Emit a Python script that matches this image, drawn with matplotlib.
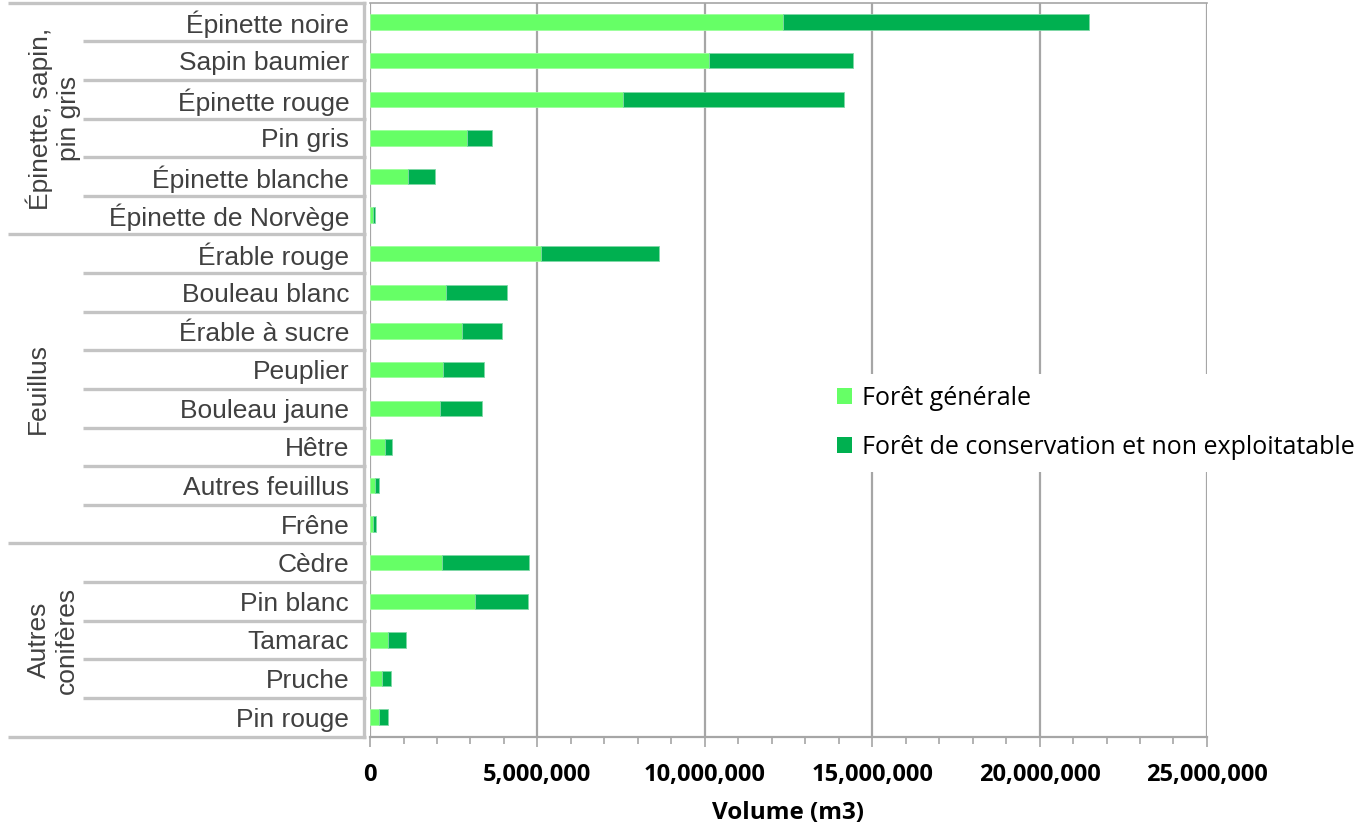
import numpy as np
import matplotlib.pyplot as plt
import matplotlib.transforms as mtransforms
from matplotlib.patches import Patch
from matplotlib.ticker import MultipleLocator, FuncFormatter

# Species, top to bottom, with the group each one belongs to
species = ["Épinette noire", "Sapin baumier", "Épinette rouge", "Pin gris",
           "Épinette blanche", "Épinette de Norvège",
           "Érable rouge", "Bouleau blanc", "Érable à sucre", "Peuplier",
           "Bouleau jaune", "Hêtre", "Autres feuillus", "Frêne",
           "Cèdre", "Pin blanc", "Tamarac", "Pruche", "Pin rouge"]
groups = ["Épinette, sapin,\npin gris", "Feuillus", "Autres\nconifères"]
group_sizes = [6, 8, 5]

# Volumes (m3)
generale = np.array([12.34, 10.13, 7.55, 2.89, 1.12, 0.10,
                     5.11, 2.28, 2.76, 2.19, 2.10, 0.46, 0.15, 0.10,
                     2.15, 3.15, 0.54, 0.37, 0.28]) * 1e6
conservation = np.array([9.13, 4.30, 6.62, 0.74, 0.81, 0.06,
                         3.52, 1.82, 1.17, 1.22, 1.24, 0.21, 0.13, 0.09,
                         2.61, 1.57, 0.52, 0.26, 0.27]) * 1e6

light_green = "#66FF66"
dark_green = "#00B050"
grid_grey = "#A6A6A6"
sep_grey = "#C4C4C4"
label_grey = "#404040"

fig = plt.figure(figsize=(13.72, 8.27), dpi=100)
ax = fig.add_axes([0.2697, 0.1094, 0.61, 0.8873])

# spine position first: moving a spine rebuilds that axis' ticks
ax.spines["right"].set_visible(False)
ax.spines["top"].set_color(grid_grey)
ax.spines["top"].set_linewidth(1.2)
ax.spines["bottom"].set_color(grid_grey)
ax.spines["bottom"].set_linewidth(1.6)
ax.spines["left"].set_position(("outward", 4))
ax.spines["left"].set_color(sep_grey)
ax.spines["left"].set_linewidth(2.4)

y = np.arange(len(species))
ax.barh(y, generale, height=0.4, color=light_green, edgecolor="#9CFF9C",
        linewidth=0.6, zorder=3, label="Forêt générale")
ax.barh(y, conservation, left=generale, height=0.4, color=dark_green,
        edgecolor="#7FD8A6", linewidth=0.6, zorder=3,
        label="Forêt de conservation et non exploitatable")

ax.set_ylim(len(species) - 0.5, -0.5)
ax.set_xlim(0, 25e6)

ax.tick_params(axis="x", which="both", direction="out", color=grid_grey,
               width=1.2, pad=12)
ax.tick_params(axis="x", which="major", length=7)
ax.tick_params(axis="x", which="minor", length=5)
ax.tick_params(axis="y", length=0, pad=11)

ax.xaxis.set_major_locator(MultipleLocator(5e6))
ax.xaxis.set_minor_locator(MultipleLocator(1e6))
ax.xaxis.set_major_formatter(FuncFormatter(lambda v, p: f"{v:,.0f}"))
ax.grid(axis="x", which="major", color=grid_grey, linewidth=1.6, zorder=0)
for lab in ax.get_xticklabels():
    lab.set_fontfamily("Open Sans")
    lab.set_fontweight("bold")
    lab.set_fontsize(17)
    lab.set_color("black")
ax.set_xlabel("Volume (m3)", fontsize=17.5, fontweight="bold",
              family="Open Sans", labelpad=10)

ax.set_yticks(y)
ax.set_yticklabels(species)
for lab in ax.get_yticklabels():
    lab.set_fontfamily("Liberation Sans")
    lab.set_fontsize(19)
    lab.set_color(label_grey)

# Row separators and group brackets on the category side
trans = mtransforms.blended_transform_factory(fig.transFigure, ax.transData)
x_end = 366 / 1372
bounds = np.cumsum([0] + group_sizes)
for b in range(len(species) + 1):
    x0 = 8 / 1372 if b in bounds else 83 / 1372
    ax.plot([x0, x_end], [b - 0.5, b - 0.5], color=sep_grey, lw=2.4,
            transform=trans, clip_on=False, solid_capstyle="butt")

group_x = [53 / 1372, 38 / 1372, 53 / 1372]
for name, start, size, gx in zip(groups, bounds[:-1], group_sizes, group_x):
    ax.text(gx, start + size / 2 - 0.5, name, transform=trans, rotation=90,
            ha="center", va="center", fontsize=19, color=label_grey,
            family="Liberation Sans", linespacing=1.2)

handles = [Patch(facecolor=light_green, edgecolor="none"),
           Patch(facecolor=dark_green, edgecolor="none")]
leg = fig.legend(handles, ["Forêt générale",
                           "Forêt de conservation et non exploitatable"],
                 loc="center left", bbox_to_anchor=(812 / 1372, 1 - 423 / 827),
                 frameon=True, fancybox=False, framealpha=1,
                 edgecolor="white", handlelength=0.6, handleheight=0.6,
                 handletextpad=0.4, labelspacing=0.95, borderpad=0.5,
                 prop={"family": "Open Sans", "size": 18})
leg.get_frame().set_linewidth(0)

fig.savefig("out.png", dpi=100)
